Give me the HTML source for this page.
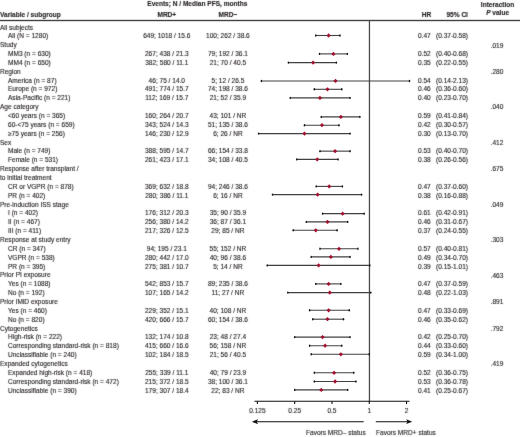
<!DOCTYPE html>
<html><head><meta charset="utf-8"><style>
html,body{margin:0;padding:0;background:#fff;}
body{width:520px;height:437px;overflow:hidden;position:relative;}
svg{display:block;position:absolute;left:0;top:0;overflow:visible;}
#t{will-change:transform;transform:translate(0px,0px);}
#g{will-change:transform;}
text{font-family:"Liberation Sans",sans-serif;font-size:6.55px;fill:#231f20;stroke:#231f20;stroke-width:0.12px;}
.b{font-weight:bold;}
.w{stroke:#404040;stroke-width:1.1;}
.ax{stroke:#111;stroke-width:1.1;}
</style></head><body>
<svg id="g" width="520" height="437" viewBox="0 0 520 437">
<rect x="0" y="19.8" width="520" height="1.4" fill="#444"/>
<rect x="368.8" y="20.5" width="1.3" height="381" fill="#4a4a4a"/>
<line x1="315.76" y1="35.50" x2="339.94" y2="35.50" class="w"/>
<ellipse cx="315.76" cy="35.50" rx="0.75" ry="1.2" fill="#151515"/>
<ellipse cx="339.94" cy="35.50" rx="0.75" ry="1.2" fill="#151515"/>
<line x1="319.50" y1="53.90" x2="347.40" y2="53.90" class="w"/>
<ellipse cx="319.50" cy="53.90" rx="0.75" ry="1.2" fill="#151515"/>
<ellipse cx="347.40" cy="53.90" rx="0.75" ry="1.2" fill="#151515"/>
<line x1="288.40" y1="62.60" x2="336.40" y2="62.60" class="w"/>
<ellipse cx="288.40" cy="62.60" rx="0.75" ry="1.2" fill="#151515"/>
<ellipse cx="336.40" cy="62.60" rx="0.75" ry="1.2" fill="#151515"/>
<line x1="261.40" y1="80.95" x2="409.50" y2="80.95" class="w"/>
<ellipse cx="261.40" cy="80.95" rx="0.75" ry="1.2" fill="#151515"/>
<ellipse cx="409.50" cy="80.95" rx="0.75" ry="1.2" fill="#151515"/>
<line x1="314.29" y1="89.30" x2="341.77" y2="89.30" class="w"/>
<ellipse cx="314.29" cy="89.30" rx="0.75" ry="1.2" fill="#151515"/>
<ellipse cx="341.77" cy="89.30" rx="0.75" ry="1.2" fill="#151515"/>
<line x1="290.18" y1="97.90" x2="350.06" y2="97.90" class="w"/>
<ellipse cx="290.18" cy="97.90" rx="0.75" ry="1.2" fill="#151515"/>
<ellipse cx="350.06" cy="97.90" rx="0.75" ry="1.2" fill="#151515"/>
<line x1="321.28" y1="116.90" x2="359.87" y2="116.90" class="w"/>
<ellipse cx="321.28" cy="116.90" rx="0.75" ry="1.2" fill="#151515"/>
<ellipse cx="359.87" cy="116.90" rx="0.75" ry="1.2" fill="#151515"/>
<line x1="304.48" y1="125.20" x2="339.01" y2="125.20" class="w"/>
<ellipse cx="304.48" cy="125.20" rx="0.75" ry="1.2" fill="#151515"/>
<ellipse cx="339.01" cy="125.20" rx="0.75" ry="1.2" fill="#151515"/>
<line x1="258.60" y1="133.60" x2="350.06" y2="133.60" class="w"/>
<ellipse cx="258.60" cy="133.60" rx="0.75" ry="1.2" fill="#151515"/>
<ellipse cx="350.06" cy="133.60" rx="0.75" ry="1.2" fill="#151515"/>
<line x1="319.96" y1="151.15" x2="350.06" y2="151.15" class="w"/>
<ellipse cx="319.96" cy="151.15" rx="0.75" ry="1.2" fill="#151515"/>
<ellipse cx="350.06" cy="151.15" rx="0.75" ry="1.2" fill="#151515"/>
<line x1="296.78" y1="159.40" x2="338.06" y2="159.40" class="w"/>
<ellipse cx="296.78" cy="159.40" rx="0.75" ry="1.2" fill="#151515"/>
<ellipse cx="338.06" cy="159.40" rx="0.75" ry="1.2" fill="#151515"/>
<line x1="316.20" y1="186.40" x2="342.40" y2="186.40" class="w"/>
<ellipse cx="316.20" cy="186.40" rx="0.75" ry="1.2" fill="#151515"/>
<ellipse cx="342.40" cy="186.40" rx="0.75" ry="1.2" fill="#151515"/>
<line x1="272.50" y1="194.60" x2="361.60" y2="194.60" class="w"/>
<ellipse cx="272.50" cy="194.60" rx="0.75" ry="1.2" fill="#151515"/>
<ellipse cx="361.60" cy="194.60" rx="0.75" ry="1.2" fill="#151515"/>
<line x1="322.58" y1="213.65" x2="364.18" y2="213.65" class="w"/>
<ellipse cx="322.58" cy="213.65" rx="0.75" ry="1.2" fill="#151515"/>
<ellipse cx="364.18" cy="213.65" rx="0.75" ry="1.2" fill="#151515"/>
<line x1="306.24" y1="221.90" x2="347.71" y2="221.90" class="w"/>
<ellipse cx="306.24" cy="221.90" rx="0.75" ry="1.2" fill="#151515"/>
<ellipse cx="347.71" cy="221.90" rx="0.75" ry="1.2" fill="#151515"/>
<line x1="293.20" y1="230.30" x2="337.09" y2="230.30" class="w"/>
<ellipse cx="293.20" cy="230.30" rx="0.75" ry="1.2" fill="#151515"/>
<ellipse cx="337.09" cy="230.30" rx="0.75" ry="1.2" fill="#151515"/>
<line x1="319.96" y1="248.80" x2="357.91" y2="248.80" class="w"/>
<ellipse cx="319.96" cy="248.80" rx="0.75" ry="1.2" fill="#151515"/>
<ellipse cx="357.91" cy="248.80" rx="0.75" ry="1.2" fill="#151515"/>
<line x1="311.21" y1="256.90" x2="350.06" y2="256.90" class="w"/>
<ellipse cx="311.21" cy="256.90" rx="0.75" ry="1.2" fill="#151515"/>
<ellipse cx="350.06" cy="256.90" rx="0.75" ry="1.2" fill="#151515"/>
<line x1="267.19" y1="265.40" x2="369.79" y2="265.40" class="w"/>
<ellipse cx="267.19" cy="265.40" rx="0.75" ry="1.2" fill="#151515"/>
<ellipse cx="369.79" cy="265.40" rx="0.75" ry="1.2" fill="#151515"/>
<line x1="315.76" y1="283.90" x2="340.86" y2="283.90" class="w"/>
<ellipse cx="315.76" cy="283.90" rx="0.75" ry="1.2" fill="#151515"/>
<ellipse cx="340.86" cy="283.90" rx="0.75" ry="1.2" fill="#151515"/>
<line x1="287.79" y1="292.60" x2="370.84" y2="292.60" class="w"/>
<ellipse cx="287.79" cy="292.60" rx="0.75" ry="1.2" fill="#151515"/>
<ellipse cx="370.84" cy="292.60" rx="0.75" ry="1.2" fill="#151515"/>
<line x1="309.61" y1="310.30" x2="349.29" y2="310.30" class="w"/>
<ellipse cx="309.61" cy="310.30" rx="0.75" ry="1.2" fill="#151515"/>
<ellipse cx="349.29" cy="310.30" rx="0.75" ry="1.2" fill="#151515"/>
<line x1="312.77" y1="319.20" x2="343.53" y2="319.20" class="w"/>
<ellipse cx="312.77" cy="319.20" rx="0.75" ry="1.2" fill="#151515"/>
<ellipse cx="343.53" cy="319.20" rx="0.75" ry="1.2" fill="#151515"/>
<line x1="294.67" y1="337.10" x2="350.06" y2="337.10" class="w"/>
<ellipse cx="294.67" cy="337.10" rx="0.75" ry="1.2" fill="#151515"/>
<ellipse cx="350.06" cy="337.10" rx="0.75" ry="1.2" fill="#151515"/>
<line x1="309.61" y1="345.70" x2="341.77" y2="345.70" class="w"/>
<ellipse cx="309.61" cy="345.70" rx="0.75" ry="1.2" fill="#151515"/>
<ellipse cx="341.77" cy="345.70" rx="0.75" ry="1.2" fill="#151515"/>
<line x1="311.21" y1="354.30" x2="369.25" y2="354.30" class="w"/>
<ellipse cx="311.21" cy="354.30" rx="0.75" ry="1.2" fill="#151515"/>
<ellipse cx="369.25" cy="354.30" rx="0.75" ry="1.2" fill="#151515"/>
<line x1="314.29" y1="372.80" x2="353.77" y2="372.80" class="w"/>
<ellipse cx="314.29" cy="372.80" rx="0.75" ry="1.2" fill="#151515"/>
<ellipse cx="353.77" cy="372.80" rx="0.75" ry="1.2" fill="#151515"/>
<line x1="314.29" y1="381.50" x2="355.88" y2="381.50" class="w"/>
<ellipse cx="314.29" cy="381.50" rx="0.75" ry="1.2" fill="#151515"/>
<ellipse cx="355.88" cy="381.50" rx="0.75" ry="1.2" fill="#151515"/>
<line x1="294.67" y1="389.90" x2="347.71" y2="389.90" class="w"/>
<ellipse cx="294.67" cy="389.90" rx="0.75" ry="1.2" fill="#151515"/>
<ellipse cx="347.71" cy="389.90" rx="0.75" ry="1.2" fill="#151515"/>
<path d="M326.48 35.50L328.63 33.35L330.78 35.50L328.63 37.65Z" fill="#a1132f"/>
<path d="M331.25 53.90L333.40 51.75L335.55 53.90L333.40 56.05Z" fill="#a1132f"/>
<path d="M310.95 62.60L313.10 60.45L315.25 62.60L313.10 64.75Z" fill="#a1132f"/>
<path d="M333.35 80.95L335.50 78.80L337.65 80.95L335.50 83.10Z" fill="#a1132f"/>
<path d="M325.32 89.30L327.47 87.15L329.62 89.30L327.47 91.45Z" fill="#a1132f"/>
<path d="M317.81 97.90L319.96 95.75L322.11 97.90L319.96 100.05Z" fill="#a1132f"/>
<path d="M338.71 116.90L340.86 114.75L343.01 116.90L340.86 119.05Z" fill="#a1132f"/>
<path d="M319.85 125.20L322.00 123.05L324.15 125.20L322.00 127.35Z" fill="#a1132f"/>
<path d="M302.33 133.60L304.48 131.45L306.63 133.60L304.48 135.75Z" fill="#a1132f"/>
<path d="M332.94 151.15L335.09 149.00L337.24 151.15L335.09 153.30Z" fill="#a1132f"/>
<path d="M315.05 159.40L317.20 157.25L319.35 159.40L317.20 161.55Z" fill="#a1132f"/>
<path d="M327.05 186.40L329.20 184.25L331.35 186.40L329.20 188.55Z" fill="#a1132f"/>
<path d="M315.45 194.60L317.60 192.45L319.75 194.60L317.60 196.75Z" fill="#a1132f"/>
<path d="M340.51 213.65L342.66 211.50L344.81 213.65L342.66 215.80Z" fill="#a1132f"/>
<path d="M325.32 221.90L327.47 219.75L329.62 221.90L327.47 224.05Z" fill="#a1132f"/>
<path d="M313.61 230.30L315.76 228.15L317.91 230.30L315.76 232.45Z" fill="#a1132f"/>
<path d="M336.86 248.80L339.01 246.65L341.16 248.80L339.01 250.95Z" fill="#a1132f"/>
<path d="M328.72 256.90L330.87 254.75L333.02 256.90L330.87 259.05Z" fill="#a1132f"/>
<path d="M316.44 265.40L318.59 263.25L320.74 265.40L318.59 267.55Z" fill="#a1132f"/>
<path d="M326.48 283.90L328.63 281.75L330.78 283.90L328.63 286.05Z" fill="#a1132f"/>
<path d="M327.61 292.60L329.76 290.45L331.91 292.60L329.76 294.75Z" fill="#a1132f"/>
<path d="M326.48 310.30L328.63 308.15L330.78 310.30L328.63 312.45Z" fill="#a1132f"/>
<path d="M325.32 319.20L327.47 317.05L329.62 319.20L327.47 321.35Z" fill="#a1132f"/>
<path d="M320.43 337.10L322.58 334.95L324.73 337.10L322.58 339.25Z" fill="#a1132f"/>
<path d="M322.93 345.70L325.08 343.55L327.23 345.70L325.08 347.85Z" fill="#a1132f"/>
<path d="M338.71 354.30L340.86 352.15L343.01 354.30L340.86 356.45Z" fill="#a1132f"/>
<path d="M331.92 372.80L334.07 370.65L336.22 372.80L334.07 374.95Z" fill="#a1132f"/>
<path d="M332.94 381.50L335.09 379.35L337.24 381.50L335.09 383.65Z" fill="#a1132f"/>
<path d="M319.13 389.90L321.28 387.75L323.43 389.90L321.28 392.05Z" fill="#a1132f"/>
<line x1="254.5" y1="401.3" x2="409.5" y2="401.3" class="ax"/>
<line x1="257.38" y1="401.3" x2="257.38" y2="404.1" class="ax"/>
<line x1="294.67" y1="401.3" x2="294.67" y2="404.1" class="ax"/>
<line x1="331.96" y1="401.3" x2="331.96" y2="404.1" class="ax"/>
<line x1="369.25" y1="401.3" x2="369.25" y2="404.1" class="ax"/>
<line x1="406.54" y1="401.3" x2="406.54" y2="404.1" class="ax"/>
<line x1="256" y1="421.7" x2="363.7" y2="421.7" class="ax"/>
<path d="M251.9 421.7 L258 419.2 L256.8 421.7 L258 424.2Z" fill="#111"/>
<line x1="375.8" y1="421.7" x2="408" y2="421.7" class="ax"/>
<path d="M412.2 421.7 L406.3 419.3 L407.4 421.7 L406.3 424.1Z" fill="#111"/>
</svg>
<svg id="t" width="520" height="437" viewBox="0 0 520 437">
<defs><filter id="cv" x="0" y="0" width="520" height="437" filterUnits="userSpaceOnUse"><feConvolveMatrix order="3" kernelMatrix="0.015 0.06 0.015 0.06 0.70 0.06 0.015 0.06 0.015" preserveAlpha="false" edgeMode="none"/></filter></defs>
<g filter="url(#cv)"><g transform="translate(0,0)">
<text x="197.3" y="5.5" text-anchor="middle" class="b">Events; N / Median PFS, months</text>
<text x="497.6" y="6.9" text-anchor="middle" class="b">Interaction</text>
<text x="497.6" y="14.6" text-anchor="middle" class="b"><tspan font-style="italic">P</tspan> value</text>
<text x="0" y="16.6" class="b">Variable / subgroup</text>
<text x="166.8" y="16.6" text-anchor="middle" class="b">MRD+</text>
<text x="227.9" y="16.6" text-anchor="middle" class="b">MRD–</text>
<text x="426.6" y="16.6" text-anchor="middle" class="b">HR</text>
<text x="457.2" y="16.6" text-anchor="middle" class="b">95% CI</text>
<text x="0" y="29.50">All subjects</text>
<text x="8" y="38.35">All (N = 1280)</text>
<text x="166.8" y="38.35" text-anchor="middle">649; 1018 / 15.6</text>
<text x="227.9" y="38.35" text-anchor="middle">100; 262 / 38.6</text>
<text x="418.0" y="38.35">0.47</text>
<text x="436.0" y="38.35">(0.37-0.58)</text>
<text x="0" y="47.21">Study</text>
<text x="497.0" y="47.51" text-anchor="middle">.019</text>
<text x="8" y="56.06">MM3 (n = 630)</text>
<text x="166.8" y="56.06" text-anchor="middle">267; 438 / 21.3</text>
<text x="227.9" y="56.06" text-anchor="middle">79; 192 / 36.1</text>
<text x="418.0" y="56.06">0.52</text>
<text x="436.0" y="56.06">(0.40-0.68)</text>
<text x="8" y="64.92">MM4 (n = 650)</text>
<text x="166.8" y="64.92" text-anchor="middle">382; 580 / 11.1</text>
<text x="227.9" y="64.92" text-anchor="middle">21; 70 / 40.5</text>
<text x="418.0" y="64.92">0.35</text>
<text x="436.0" y="64.92">(0.22-0.55)</text>
<text x="0" y="73.77">Region</text>
<text x="497.0" y="74.07" text-anchor="middle">.280</text>
<text x="8" y="82.62">America (n = 87)</text>
<text x="166.8" y="82.62" text-anchor="middle">46; 75 / 14.0</text>
<text x="227.9" y="82.62" text-anchor="middle">5; 12 / 26.5</text>
<text x="418.0" y="82.62">0.54</text>
<text x="436.0" y="82.62">(0.14-2.13)</text>
<text x="8" y="91.48">Europe (n = 972)</text>
<text x="166.8" y="91.48" text-anchor="middle">491; 774 / 15.7</text>
<text x="227.9" y="91.48" text-anchor="middle">74; 198 / 38.6</text>
<text x="418.0" y="91.48">0.46</text>
<text x="436.0" y="91.48">(0.36-0.60)</text>
<text x="8" y="100.33">Asia-Pacific (n = 221)</text>
<text x="166.8" y="100.33" text-anchor="middle">112; 169 / 15.7</text>
<text x="227.9" y="100.33" text-anchor="middle">21; 52 / 35.9</text>
<text x="418.0" y="100.33">0.40</text>
<text x="436.0" y="100.33">(0.23-0.70)</text>
<text x="0" y="109.19">Age category</text>
<text x="497.0" y="109.49" text-anchor="middle">.040</text>
<text x="8" y="118.04">&lt;60 years (n = 365)</text>
<text x="166.8" y="118.04" text-anchor="middle">160; 264 / 20.7</text>
<text x="227.9" y="118.04" text-anchor="middle">43; 101 / NR</text>
<text x="418.0" y="118.04">0.59</text>
<text x="436.0" y="118.04">(0.41-0.84)</text>
<text x="8" y="126.89">60-&lt;75 years (n = 659)</text>
<text x="166.8" y="126.89" text-anchor="middle">343; 524 / 14.3</text>
<text x="227.9" y="126.89" text-anchor="middle">51; 135 / 38.6</text>
<text x="418.0" y="126.89">0.42</text>
<text x="436.0" y="126.89">(0.30-0.57)</text>
<text x="8" y="135.75">≥75 years (n = 256)</text>
<text x="166.8" y="135.75" text-anchor="middle">146; 230 / 12.9</text>
<text x="227.9" y="135.75" text-anchor="middle">6; 26 / NR</text>
<text x="418.0" y="135.75">0.30</text>
<text x="436.0" y="135.75">(0.13-0.70)</text>
<text x="0" y="144.60">Sex</text>
<text x="497.0" y="144.90" text-anchor="middle">.412</text>
<text x="8" y="153.46">Male (n = 749)</text>
<text x="166.8" y="153.46" text-anchor="middle">388; 595 / 14.7</text>
<text x="227.9" y="153.46" text-anchor="middle">66; 154 / 33.8</text>
<text x="418.0" y="153.46">0.53</text>
<text x="436.0" y="153.46">(0.40-0.70)</text>
<text x="8" y="162.31">Female (n = 531)</text>
<text x="166.8" y="162.31" text-anchor="middle">261; 423 / 17.1</text>
<text x="227.9" y="162.31" text-anchor="middle">34; 108 / 40.5</text>
<text x="418.0" y="162.31">0.38</text>
<text x="436.0" y="162.31">(0.26-0.56)</text>
<text x="0" y="171.16">Response after transplant /</text>
<text x="497.0" y="171.46" text-anchor="middle">.675</text>
<text x="0" y="180.02">to initial treatment</text>
<text x="8" y="188.87">CR or VGPR (n = 878)</text>
<text x="166.8" y="188.87" text-anchor="middle">369; 632 / 18.8</text>
<text x="227.9" y="188.87" text-anchor="middle">94; 246 / 38.6</text>
<text x="418.0" y="188.87">0.47</text>
<text x="436.0" y="188.87">(0.37-0.60)</text>
<text x="8" y="197.73">PR (n = 402)</text>
<text x="166.8" y="197.73" text-anchor="middle">280; 386 / 11.1</text>
<text x="227.9" y="197.73" text-anchor="middle">6; 16 / NR</text>
<text x="418.0" y="197.73">0.38</text>
<text x="436.0" y="197.73">(0.16-0.88)</text>
<text x="0" y="206.58">Pre-induction ISS stage</text>
<text x="497.0" y="206.88" text-anchor="middle">.049</text>
<text x="8" y="215.43">I (n = 402)</text>
<text x="166.8" y="215.43" text-anchor="middle">176; 312 / 20.3</text>
<text x="227.9" y="215.43" text-anchor="middle">35; 90 / 35.9</text>
<text x="418.0" y="215.43">0.61</text>
<text x="436.0" y="215.43">(0.42-0.91)</text>
<text x="8" y="224.29">II (n = 467)</text>
<text x="166.8" y="224.29" text-anchor="middle">256; 380 / 14.2</text>
<text x="227.9" y="224.29" text-anchor="middle">36; 87 / 36.1</text>
<text x="418.0" y="224.29">0.46</text>
<text x="436.0" y="224.29">(0.31-0.67)</text>
<text x="8" y="233.14">III (n = 411)</text>
<text x="166.8" y="233.14" text-anchor="middle">217; 326 / 12.5</text>
<text x="227.9" y="233.14" text-anchor="middle">29; 85 / NR</text>
<text x="418.0" y="233.14">0.37</text>
<text x="436.0" y="233.14">(0.24-0.55)</text>
<text x="0" y="242.00">Response at study entry</text>
<text x="497.0" y="242.30" text-anchor="middle">.303</text>
<text x="8" y="250.85">CR (n = 347)</text>
<text x="166.8" y="250.85" text-anchor="middle">94; 195 / 23.1</text>
<text x="227.9" y="250.85" text-anchor="middle">55; 152 / NR</text>
<text x="418.0" y="250.85">0.57</text>
<text x="436.0" y="250.85">(0.40-0.81)</text>
<text x="8" y="259.70">VGPR (n = 538)</text>
<text x="166.8" y="259.70" text-anchor="middle">280; 442 / 17.0</text>
<text x="227.9" y="259.70" text-anchor="middle">40; 96 / 38.6</text>
<text x="418.0" y="259.70">0.49</text>
<text x="436.0" y="259.70">(0.34-0.70)</text>
<text x="8" y="268.56">PR (n = 395)</text>
<text x="166.8" y="268.56" text-anchor="middle">275; 381 / 10.7</text>
<text x="227.9" y="268.56" text-anchor="middle">5; 14 / NR</text>
<text x="418.0" y="268.56">0.39</text>
<text x="436.0" y="268.56">(0.15-1.01)</text>
<text x="0" y="277.41">Prior PI exposure</text>
<text x="497.0" y="277.71" text-anchor="middle">.463</text>
<text x="8" y="286.27">Yes (n = 1088)</text>
<text x="166.8" y="286.27" text-anchor="middle">542; 853 / 15.7</text>
<text x="227.9" y="286.27" text-anchor="middle">89; 235 / 38.6</text>
<text x="418.0" y="286.27">0.47</text>
<text x="436.0" y="286.27">(0.37-0.59)</text>
<text x="8" y="295.12">No (n = 192)</text>
<text x="166.8" y="295.12" text-anchor="middle">107; 165 / 14.2</text>
<text x="227.9" y="295.12" text-anchor="middle">11; 27 / NR</text>
<text x="418.0" y="295.12">0.48</text>
<text x="436.0" y="295.12">(0.22-1.03)</text>
<text x="0" y="303.97">Prior IMiD exposure</text>
<text x="497.0" y="304.27" text-anchor="middle">.891</text>
<text x="8" y="312.83">Yes (n = 460)</text>
<text x="166.8" y="312.83" text-anchor="middle">229; 352 / 15.1</text>
<text x="227.9" y="312.83" text-anchor="middle">40; 108 / NR</text>
<text x="418.0" y="312.83">0.47</text>
<text x="436.0" y="312.83">(0.33-0.69)</text>
<text x="8" y="321.68">No (n = 820)</text>
<text x="166.8" y="321.68" text-anchor="middle">420; 666 / 15.7</text>
<text x="227.9" y="321.68" text-anchor="middle">60; 154 / 38.6</text>
<text x="418.0" y="321.68">0.46</text>
<text x="436.0" y="321.68">(0.35-0.62)</text>
<text x="0" y="330.54">Cytogenetics</text>
<text x="497.0" y="330.84" text-anchor="middle">.792</text>
<text x="8" y="339.39">High-risk (n = 222)</text>
<text x="166.8" y="339.39" text-anchor="middle">132; 174 / 10.8</text>
<text x="227.9" y="339.39" text-anchor="middle">23; 48 / 27.4</text>
<text x="418.0" y="339.39">0.42</text>
<text x="436.0" y="339.39">(0.25-0.70)</text>
<text x="8" y="348.24">Corresponding standard-risk (n = 818)</text>
<text x="166.8" y="348.24" text-anchor="middle">415; 660 / 16.6</text>
<text x="227.9" y="348.24" text-anchor="middle">56; 158 / NR</text>
<text x="418.0" y="348.24">0.44</text>
<text x="436.0" y="348.24">(0.33-0.60)</text>
<text x="8" y="357.10">Unclassifiable (n = 240)</text>
<text x="166.8" y="357.10" text-anchor="middle">102; 184 / 18.5</text>
<text x="227.9" y="357.10" text-anchor="middle">21; 56 / 40.5</text>
<text x="418.0" y="357.10">0.59</text>
<text x="436.0" y="357.10">(0.34-1.00)</text>
<text x="0" y="365.95">Expanded cytogenetics</text>
<text x="497.0" y="366.25" text-anchor="middle">.419</text>
<text x="8" y="374.81">Expanded high-risk (n = 418)</text>
<text x="166.8" y="374.81" text-anchor="middle">255; 339 / 11.1</text>
<text x="227.9" y="374.81" text-anchor="middle">40; 79 / 23.9</text>
<text x="418.0" y="374.81">0.52</text>
<text x="436.0" y="374.81">(0.36-0.75)</text>
<text x="8" y="383.66">Corresponding standard-risk (n = 472)</text>
<text x="166.8" y="383.66" text-anchor="middle">215; 372 / 18.5</text>
<text x="227.9" y="383.66" text-anchor="middle">38; 100 / 36.1</text>
<text x="418.0" y="383.66">0.53</text>
<text x="436.0" y="383.66">(0.36-0.78)</text>
<text x="8" y="392.51">Unclassifiable (n = 390)</text>
<text x="166.8" y="392.51" text-anchor="middle">179; 307 / 18.4</text>
<text x="227.9" y="392.51" text-anchor="middle">22; 83 / NR</text>
<text x="418.0" y="392.51">0.41</text>
<text x="436.0" y="392.51">(0.25-0.67)</text>
<text x="257.38" y="412.7" text-anchor="middle">0.125</text>
<text x="294.67" y="412.7" text-anchor="middle">0.25</text>
<text x="331.96" y="412.7" text-anchor="middle">0.5</text>
<text x="369.25" y="412.7" text-anchor="middle">1</text>
<text x="406.54" y="412.7" text-anchor="middle">2</text>
<text x="306" y="435.2">Favors MRD– status</text>
<text x="376" y="435.2">Favors MRD+ status</text>
</g></g>
</svg>
</body></html>
